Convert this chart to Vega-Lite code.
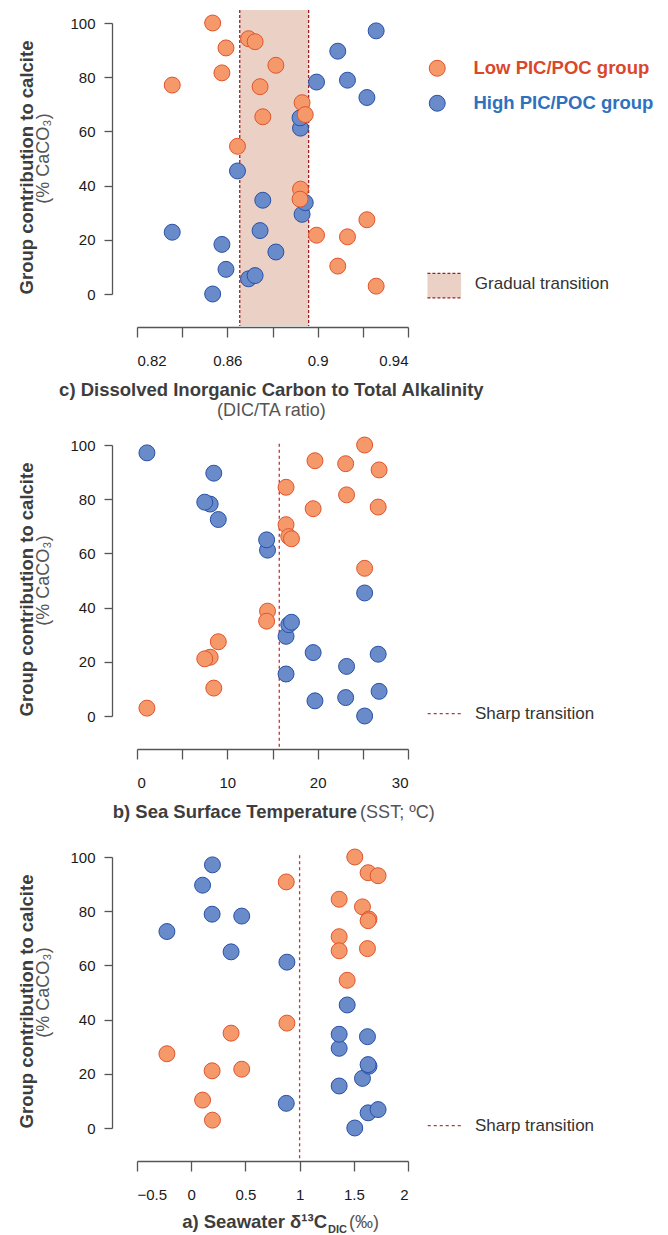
{
  "$schema": "https://vega.github.io/schema/vega-lite/v6.json",
  "background": "white",
  "padding": {"left": 17, "top": 9, "right": 5, "bottom": 0},
  "config": {
    "font": "Liberation Sans",
    "view": {"stroke": null},
    "axis": {"grid": false, "domainColor": "#555555", "tickColor": "#555555", "domainWidth": 1.3, "tickWidth": 1.3, "labelColor": "#1a1a1a", "labelFontSize": 15, "labelFont": "Liberation Sans", "titleFont": "Liberation Sans"}
  },
  "datasets": {
    "sites": [
      {"dic": 0.8535, "sst": 25.2, "d13c": 1.509, "low": 100, "high": 0},
      {"dic": 0.8694, "sst": 19.7, "d13c": 1.632, "low": 94.2, "high": 5.6},
      {"dic": 0.8723, "sst": 23.1, "d13c": 1.724, "low": 93.1, "high": 6.8},
      {"dic": 0.8594, "sst": 26.8, "d13c": 0.877, "low": 90.8, "high": 9.1},
      {"dic": 0.8815, "sst": 16.5, "d13c": 1.365, "low": 84.4, "high": 15.5},
      {"dic": 0.8576, "sst": 23.2, "d13c": 1.58, "low": 81.6, "high": 18.3},
      {"dic": 0.8356, "sst": 26.7, "d13c": 1.64, "low": 77.1, "high": 22.8},
      {"dic": 0.8745, "sst": 19.5, "d13c": 1.632, "low": 76.5, "high": 23.4},
      {"dic": 0.8931, "sst": 16.5, "d13c": 1.365, "low": 70.6, "high": 29.4},
      {"dic": 0.8945, "sst": 16.8, "d13c": 1.626, "low": 66.2, "high": 33.7},
      {"dic": 0.8757, "sst": 17.1, "d13c": 1.365, "low": 65.4, "high": 34.6},
      {"dic": 0.8645, "sst": 25.2, "d13c": 1.439, "low": 54.5, "high": 45.4},
      {"dic": 0.8924, "sst": 14.45, "d13c": 0.883, "low": 38.7, "high": 61.2},
      {"dic": 0.8922, "sst": 14.35, "d13c": 0.368, "low": 35.0, "high": 65.0},
      {"dic": 0.9218, "sst": 9.0, "d13c": -0.224, "low": 27.4, "high": 72.5},
      {"dic": 0.8995, "sst": 8.1, "d13c": 0.466, "low": 21.7, "high": 78.2},
      {"dic": 0.9132, "sst": 7.5, "d13c": 0.193, "low": 21.1, "high": 78.9},
      {"dic": 0.9089, "sst": 8.5, "d13c": 0.105, "low": 10.3, "high": 89.6},
      {"dic": 0.9259, "sst": 1.1, "d13c": 0.196, "low": 2.9, "high": 97.1}
    ]
  },
  "spacing": 14,
  "resolve": {"legend": {"fill": "independent", "stroke": "independent"}},
  "vconcat": [
    {
      "width": 271,
      "height": 271,
      "layer": [
        {
          "data": {"values": [{}]},
          "mark": {"type": "rect", "color": "#EBD1C5"},
          "encoding": {
            "x": {"datum": 0.8655, "type": "quantitative"},
            "x2": {"datum": 0.896},
            "y": {"datum": 104.8, "type": "quantitative"},
            "y2": {"datum": -11.8}
          }
        },
        {
          "data": {"values": [{}]},
          "mark": {"type": "rule", "color": "#9E1F24", "strokeDash": [3, 2], "strokeWidth": 1.3},
          "encoding": {
            "x": {"datum": 0.8655, "type": "quantitative"},
            "y": {"datum": 104.8, "type": "quantitative"},
            "y2": {"datum": -11.8}
          }
        },
        {
          "data": {"values": [{}]},
          "mark": {"type": "rule", "color": "#9E1F24", "strokeDash": [3, 2], "strokeWidth": 1.3},
          "encoding": {
            "x": {"datum": 0.896, "type": "quantitative"},
            "y": {"datum": 104.8, "type": "quantitative"},
            "y2": {"datum": -11.8}
          }
        },
        {
          "data": {"name": "sites"},
          "transform": [{"fold": ["low", "high"], "as": ["group", "pct"]}],
          "mark": {"type": "point", "shape": "circle", "filled": true, "size": 255, "opacity": 1, "strokeWidth": 1},
          "encoding": {
            "x": {
              "field": "dic", "type": "quantitative",
              "scale": {"domain": [0.82, 0.94], "nice": false, "zero": false},
              "axis": {"title": null, "values": [0.82, 0.84, 0.86, 0.88, 0.9, 0.92, 0.94], "offset": 33, "tickSize": 10, "labelPadding": 16, "labelExpr": "round(datum.value*100) % 4 == 2 ? format(datum.value, '~g') : ''"}
            },
            "y": {
              "field": "pct", "type": "quantitative",
              "scale": {"domain": [0, 100], "nice": false, "zero": false},
              "axis": {"title": "Group contribution to calcite", "values": [0, 20, 40, 60, 80, 100], "offset": 25, "tickSize": 8, "labelPadding": 9, "titleFontSize": 18.5, "titleFontWeight": "bold", "titleColor": "#3d3d3d", "titleAngle": 270, "titleAlign": "center", "titleBaseline": "middle", "titleX": -86, "titleY": 144}
            },
            "fill": {
              "field": "group", "type": "nominal",
              "scale": {"domain": ["low", "high"], "range": ["#F5996B", "#6A8BC9"]},
              "legend": {
                "orient": "none", "legendX": 291, "legendY": 36, "title": null, "padding": 0,
                "symbolType": "circle", "symbolSize": 255, "symbolStrokeWidth": 1, "symbolOpacity": 1,
                "labelFontSize": 18.5, "labelFontWeight": "bold", "labelFont": "Liberation Sans",
                "labelOffset": 27, "rowPadding": 14, "labelLimit": 400,
                "labelExpr": "datum.value == 'low' ? 'Low PIC/POC group' : 'High PIC/POC group'",
                "encode": {
                  "labels": {"update": {"fill": {"signal": "datum.value == 'low' ? '#D9482B' : '#2E71BE'"}}},
                  "symbols": {"update": {"stroke": {"signal": "datum.value == 'low' ? '#E0542B' : '#2850A8'"}}}
                }
              }
            },
            "stroke": {
              "field": "group", "type": "nominal",
              "scale": {"domain": ["low", "high"], "range": ["#E0542B", "#2850A8"]},
              "legend": null
            },
            "order": {"field": "group", "sort": "ascending"}
          }
        },
        {
          "data": {"values": [{}]},
          "mark": {"type": "rect", "color": "#EBD1C5"},
          "encoding": {
            "x": {"datum": 0.9486, "type": "quantitative"},
            "x2": {"datum": 0.9635},
            "y": {"datum": 7.6, "type": "quantitative"},
            "y2": {"datum": -1.4}
          }
        },
        {
          "data": {"values": [{}]},
          "mark": {"type": "rule", "color": "#9E1F24", "strokeDash": [3, 2], "strokeWidth": 1.3},
          "encoding": {
            "x": {"datum": 0.9486, "type": "quantitative"},
            "x2": {"datum": 0.9635},
            "y": {"datum": 7.6, "type": "quantitative"}
          }
        },
        {
          "data": {"values": [{}]},
          "mark": {"type": "rule", "color": "#9E1F24", "strokeDash": [3, 2], "strokeWidth": 1.3},
          "encoding": {
            "x": {"datum": 0.9486, "type": "quantitative"},
            "x2": {"datum": 0.9635},
            "y": {"datum": -1.4, "type": "quantitative"}
          }
        },
        {
          "data": {"values": [{}]},
          "mark": {"type": "text", "text": "Gradual transition", "font": "Liberation Sans", "fontSize": 17, "color": "#333333", "align": "left", "baseline": "middle"},
          "encoding": {
            "x": {"datum": 0.9696, "type": "quantitative"},
            "y": {"datum": 3.8, "type": "quantitative"}
          }
        },
        {
          "data": {"values": [{}]},
          "mark": {"type": "text", "text": "(% CaCO₃)", "font": "Liberation Sans", "fontSize": 18, "color": "#555555", "align": "center", "baseline": "middle", "angle": 270},
          "encoding": {
            "x": {"datum": 0.7786, "type": "quantitative"},
            "y": {"datum": 50, "type": "quantitative"}
          }
        },
        {
          "data": {"values": [{}]},
          "mark": {"type": "text", "text": "c) Dissolved Inorganic Carbon to Total Alkalinity", "font": "Liberation Sans", "fontSize": 18.5, "fontWeight": "bold", "color": "#3d3d3d", "align": "center", "baseline": "alphabetic"},
          "encoding": {
            "x": {"datum": 0.8795, "type": "quantitative"},
            "y": {"datum": -37.6, "type": "quantitative"}
          }
        },
        {
          "data": {"values": [{}]},
          "mark": {"type": "text", "text": "(DIC/TA ratio)", "font": "Liberation Sans", "fontSize": 18, "color": "#555555", "align": "center", "baseline": "alphabetic"},
          "encoding": {
            "x": {"datum": 0.8795, "type": "quantitative"},
            "y": {"datum": -45.2, "type": "quantitative"}
          }
        }
      ]
    },
    {
      "spacing": 25,
      "resolve": {"legend": {"fill": "independent", "stroke": "independent"}},
      "vconcat": [
        {
          "width": 271,
          "height": 271,
          "layer": [
            {
              "data": {"values": [{}]},
              "mark": {"type": "rule", "color": "#C4312E", "strokeDash": [3, 3], "strokeWidth": 1.3},
              "encoding": {
                "x": {"datum": 15.75, "type": "quantitative"},
                "y": {"datum": 100.5, "type": "quantitative"},
                "y2": {"datum": -12.5}
              }
            },
            {
              "data": {"name": "sites"},
              "transform": [{"fold": ["low", "high"], "as": ["group", "pct"]}],
              "mark": {"type": "point", "shape": "circle", "filled": true, "size": 255, "opacity": 1, "strokeWidth": 1},
              "encoding": {
                "x": {
                  "field": "sst", "type": "quantitative",
                  "scale": {"domain": [0, 30], "nice": false, "zero": false},
                  "axis": {"title": null, "values": [0, 5, 10, 15, 20, 25, 30], "offset": 33, "tickSize": 10, "labelPadding": 16, "labelExpr": "datum.value % 10 == 0 ? datum.label : ''"}
                },
                "y": {
                  "field": "pct", "type": "quantitative",
                  "scale": {"domain": [0, 100], "nice": false, "zero": false},
                  "axis": {"title": "Group contribution to calcite", "values": [0, 20, 40, 60, 80, 100], "offset": 25, "tickSize": 8, "labelPadding": 9, "titleFontSize": 18.5, "titleFontWeight": "bold", "titleColor": "#3d3d3d", "titleAngle": 270, "titleAlign": "center", "titleBaseline": "middle", "titleX": -86, "titleY": 144}
                },
                "fill": {
                  "field": "group", "type": "nominal",
                  "scale": {"domain": ["low", "high"], "range": ["#F5996B", "#6A8BC9"]},
                  "legend": null
                },
                "stroke": {
                  "field": "group", "type": "nominal",
                  "scale": {"domain": ["low", "high"], "range": ["#E0542B", "#2850A8"]},
                  "legend": null
                },
                "order": {"field": "group", "sort": "ascending"}
              }
            },
            {
              "data": {"values": [{}]},
              "mark": {"type": "rule", "color": "#C4312E", "strokeDash": [3, 3], "strokeWidth": 1.3},
              "encoding": {
                "x": {"datum": 32.18, "type": "quantitative"},
                "x2": {"datum": 35.9},
                "y": {"datum": 0.85, "type": "quantitative"}
              }
            },
            {
              "data": {"values": [{}]},
              "mark": {"type": "text", "text": "Sharp transition", "font": "Liberation Sans", "fontSize": 17, "color": "#333333", "align": "left", "baseline": "middle"},
              "encoding": {
                "x": {"datum": 37.42, "type": "quantitative"},
                "y": {"datum": 0.85, "type": "quantitative"}
              }
            },
            {
              "data": {"values": [{}]},
              "mark": {"type": "text", "text": "(% CaCO₃)", "font": "Liberation Sans", "fontSize": 18, "color": "#555555", "align": "center", "baseline": "middle", "angle": 270},
              "encoding": {
                "x": {"datum": -10.35, "type": "quantitative"},
                "y": {"datum": 50, "type": "quantitative"}
              }
            },
            {
              "data": {"values": [{}]},
              "mark": {"type": "text", "text": "b) Sea Surface Temperature", "font": "Liberation Sans", "fontSize": 18.5, "fontWeight": "bold", "color": "#3d3d3d", "align": "right", "baseline": "alphabetic"},
              "encoding": {
                "x": {"datum": 24.36, "type": "quantitative"},
                "y": {"datum": -37.5, "type": "quantitative"}
              }
            },
            {
              "data": {"values": [{}]},
              "mark": {"type": "text", "text": "(SST; ºC)", "font": "Liberation Sans", "fontSize": 18, "color": "#555555", "align": "left", "baseline": "alphabetic"},
              "encoding": {
                "x": {"datum": 24.7, "type": "quantitative"},
                "y": {"datum": -37.5, "type": "quantitative"}
              }
            }
          ]
        },
        {
          "width": 271,
          "height": 271,
          "layer": [
            {
              "data": {"values": [{}]},
              "mark": {"type": "rule", "color": "#C4312E", "strokeDash": [3, 3], "strokeWidth": 1.3},
              "encoding": {
                "x": {"datum": 1.0, "type": "quantitative"},
                "y": {"datum": 100.6, "type": "quantitative"},
                "y2": {"datum": -12.5}
              }
            },
            {
              "data": {"name": "sites"},
              "transform": [{"fold": ["low", "high"], "as": ["group", "pct"]}],
              "mark": {"type": "point", "shape": "circle", "filled": true, "size": 255, "opacity": 1, "strokeWidth": 1},
              "encoding": {
                "x": {
                  "field": "d13c", "type": "quantitative",
                  "scale": {"domain": [-0.5, 2], "nice": false, "zero": false},
                  "axis": {"title": null, "values": [-0.5, 0, 0.5, 1, 1.5, 2], "offset": 33, "tickSize": 10, "labelPadding": 16, "labelExpr": "format(datum.value, '~g')"}
                },
                "y": {
                  "field": "pct", "type": "quantitative",
                  "scale": {"domain": [0, 100], "nice": false, "zero": false},
                  "axis": {"title": "Group contribution to calcite", "values": [0, 20, 40, 60, 80, 100], "offset": 25, "tickSize": 8, "labelPadding": 9, "titleFontSize": 18.5, "titleFontWeight": "bold", "titleColor": "#3d3d3d", "titleAngle": 270, "titleAlign": "center", "titleBaseline": "middle", "titleX": -86, "titleY": 144}
                },
                "fill": {
                  "field": "group", "type": "nominal",
                  "scale": {"domain": ["low", "high"], "range": ["#F5996B", "#6A8BC9"]},
                  "legend": null
                },
                "stroke": {
                  "field": "group", "type": "nominal",
                  "scale": {"domain": ["low", "high"], "range": ["#E0542B", "#2850A8"]},
                  "legend": null
                },
                "order": {"field": "group", "sort": "ascending"}
              }
            },
            {
              "data": {"values": [{}]},
              "mark": {"type": "rule", "color": "#C4312E", "strokeDash": [3, 3], "strokeWidth": 1.3},
              "encoding": {
                "x": {"datum": 2.182, "type": "quantitative"},
                "x2": {"datum": 2.492},
                "y": {"datum": 0.85, "type": "quantitative"}
              }
            },
            {
              "data": {"values": [{}]},
              "mark": {"type": "text", "text": "Sharp transition", "font": "Liberation Sans", "fontSize": 17, "color": "#333333", "align": "left", "baseline": "middle"},
              "encoding": {
                "x": {"datum": 2.618, "type": "quantitative"},
                "y": {"datum": 0.85, "type": "quantitative"}
              }
            },
            {
              "data": {"values": [{}]},
              "mark": {"type": "text", "text": "(% CaCO₃)", "font": "Liberation Sans", "fontSize": 18, "color": "#555555", "align": "center", "baseline": "middle", "angle": 270},
              "encoding": {
                "x": {"datum": -1.3625, "type": "quantitative"},
                "y": {"datum": 50, "type": "quantitative"}
              }
            },
            {
              "data": {"values": [{}]},
              "mark": {"type": "text", "text": "a) Seawater δ¹³C", "font": "Liberation Sans", "fontSize": 18.5, "fontWeight": "bold", "color": "#3d3d3d", "align": "right", "baseline": "alphabetic"},
              "encoding": {
                "x": {"datum": 1.2528, "type": "quantitative"},
                "y": {"datum": -36.9, "type": "quantitative"}
              }
            },
            {
              "data": {"values": [{}]},
              "mark": {"type": "text", "text": "DIC", "font": "Liberation Sans", "fontSize": 11, "fontWeight": "bold", "color": "#3d3d3d", "align": "left", "baseline": "alphabetic"},
              "encoding": {
                "x": {"datum": 1.262, "type": "quantitative"},
                "y": {"datum": -38.6, "type": "quantitative"}
              }
            },
            {
              "data": {"values": [{}]},
              "mark": {"type": "text", "text": "(‰)", "font": "Liberation Sans", "fontSize": 18, "color": "#555555", "align": "left", "baseline": "alphabetic"},
              "encoding": {
                "x": {"datum": 1.4557, "type": "quantitative"},
                "y": {"datum": -36.9, "type": "quantitative"}
              }
            }
          ]
        }
      ]
    }
  ]
}
